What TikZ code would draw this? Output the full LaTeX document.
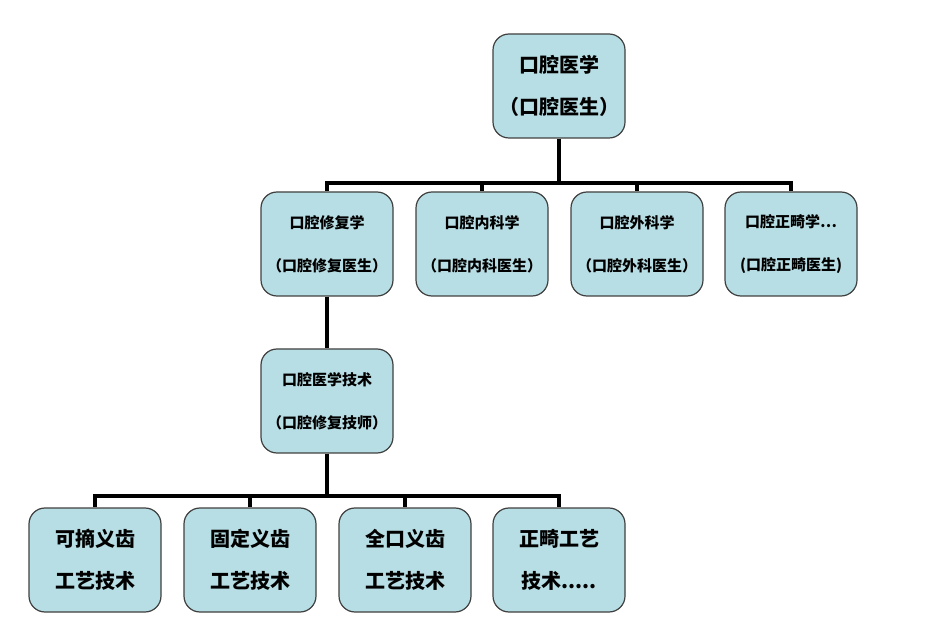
\documentclass[tikz,border=0pt]{standalone}
\usepackage{fontspec}
\newfontfamily\cjk{Noto Sans CJK SC}
\usepackage{tikz}
\definecolor{boxfill}{RGB}{183,222,228}
\definecolor{boxline}{RGB}{64,64,64}
\tikzset{
  box/.style={draw=boxline,line width=1.2pt,fill=boxfill,rounded corners=16pt,
    minimum width=132pt,minimum height=104pt,align=center,inner sep=0pt,
    font=\cjk\bfseries\fontsize{20}{42}\selectfont},
  smallbox/.style={box,font=\cjk\bfseries\fontsize{15}{43}\selectfont},
  tree/.style={line width=4pt,black}
}

\begin{document}
\begin{tikzpicture}[x=1pt,y=-1pt]
    \useasboundingbox (0,0) rectangle (938,628);

    \node[box] (0) at (559,86) {口腔医学\\（口腔医生）};

    \node[smallbox] (1) at (327,244) {口腔修复学\\（口腔修复医生）};
    \node[smallbox] (2) at (482,244) {口腔内科学\\（口腔内科医生）};
    \node[smallbox] (3) at (637,244) {口腔外科学\\（口腔外科医生）};
    \node[smallbox] (4) at (791,244) {口腔正畸学…\\(口腔正畸医生)};

    \node[smallbox] (1a) at (327,401) {口腔医学技术\\（口腔修复技师）};

    \node[box] (5) at (95,560) {可摘义齿\\工艺技术};
    \node[box] (6) at (250,560) {固定义齿\\工艺技术};
    \node[box] (7) at (405,560) {全口义齿\\工艺技术};
    \node[box] (8) at (559,560) {正畸工艺\\技术.....};

    \coordinate (bus0) at (559,183);
    \coordinate (bus1) at (327,496);

    \draw[tree] (0) -- (bus0);
    \draw[tree] (bus0) -| (1);
    \draw[tree] (bus0) -| (2);
    \draw[tree] (bus0) -| (3);
    \draw[tree] (bus0) -| (4);
    \draw[tree] (1) -- (1a);
    \draw[tree] (1a) -- (bus1);
    \draw[tree] (bus1) -| (5);
    \draw[tree] (bus1) -| (6);
    \draw[tree] (bus1) -| (7);
    \draw[tree] (bus1) -| (8);
\end{tikzpicture}
\end{document}
